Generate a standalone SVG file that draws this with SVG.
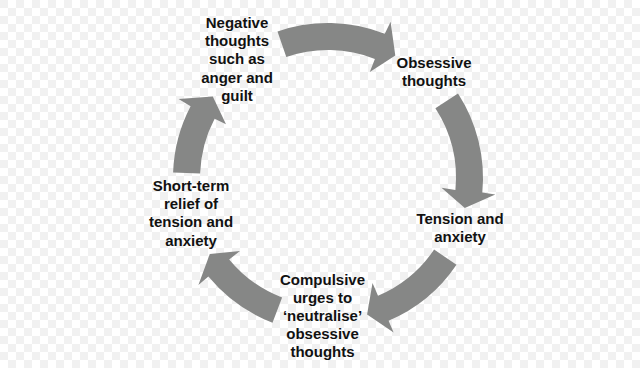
<svg xmlns="http://www.w3.org/2000/svg" width="640" height="368" viewBox="0 0 640 368">
<defs>
<pattern id="chk" width="16" height="16" patternUnits="userSpaceOnUse">
<rect width="16" height="16" fill="#ffffff"/>
<rect width="8" height="8" fill="#f1f1f1"/>
<rect x="8" y="8" width="8" height="8" fill="#f1f1f1"/>
</pattern>
<style>
.lbl{font-family:"Liberation Sans",Arial,Helvetica,sans-serif;font-size:15px;font-weight:bold;fill:#111;text-anchor:middle}
.arr{fill:#868786;stroke:none}
</style>
</defs>
<rect width="640" height="368" fill="url(#chk)"/>
<g id="connectors">
<path class="arr" d="M277.5,31.4 A155,155 0 0 1 384.8,33.8 L390.6,21.7 L395.3,55.5 L369.8,71.9 L374.9,58.9 A128,128 0 0 0 286.3,57 Z"/>
<path class="arr" d="M458,93.6 A155,155 0 0 1 482.3,192.6 L495.3,194.5 L464.8,208 L441.5,187.7 L455.4,190 A128,128 0 0 0 435.4,108.3 Z"/>
<path class="arr" d="M456.5,264.7 A155,155 0 0 1 388.6,320.7 L393.6,332.6 L367.1,314.5 L372.5,282.9 L378,295.8 A128,128 0 0 0 434.1,249.6 Z"/>
<path class="arr" d="M272.5,322.7 A155,155 0 0 1 208.4,276.6 L198.4,285 L209.8,254 L240,251 L229.2,259.4 A128,128 0 0 0 282.1,297.5 Z"/>
<path class="arr" d="M173.1,172.6 A155,155 0 0 1 190.6,106.2 L178.6,99 L212.8,96.6 L226,124.2 L214.6,118.7 A128,128 0 0 0 200.1,173.5 Z"/>
</g>
<g id="negative">
<text class="lbl" x="237" y="28">Negative</text>
<text class="lbl" x="237" y="46.2">thoughts</text>
<text class="lbl" x="237" y="64.4">such as</text>
<text class="lbl" x="237" y="82.6">anger and</text>
<text class="lbl" x="237" y="100.8">guilt</text>
</g>
<g id="obsessive">
<text class="lbl" x="434" y="67.8">Obsessive</text>
<text class="lbl" x="434" y="86">thoughts</text>
</g>
<g id="tension">
<text class="lbl" x="460" y="224">Tension and</text>
<text class="lbl" x="460" y="242.2">anxiety</text>
</g>
<g id="compulsive">
<text class="lbl" x="322.5" y="284.5">Compulsive</text>
<text class="lbl" x="322.5" y="302.7">urges to</text>
<text class="lbl" x="322.5" y="320.9">‘neutralise’</text>
<text class="lbl" x="322.5" y="339.1">obsessive</text>
<text class="lbl" x="322.5" y="357.3">thoughts</text>
</g>
<g id="relief">
<text class="lbl" x="191" y="191">Short-term</text>
<text class="lbl" x="191" y="209.2">relief of</text>
<text class="lbl" x="191" y="227.4">tension and</text>
<text class="lbl" x="191" y="245.6">anxiety</text>
</g>
</svg>
